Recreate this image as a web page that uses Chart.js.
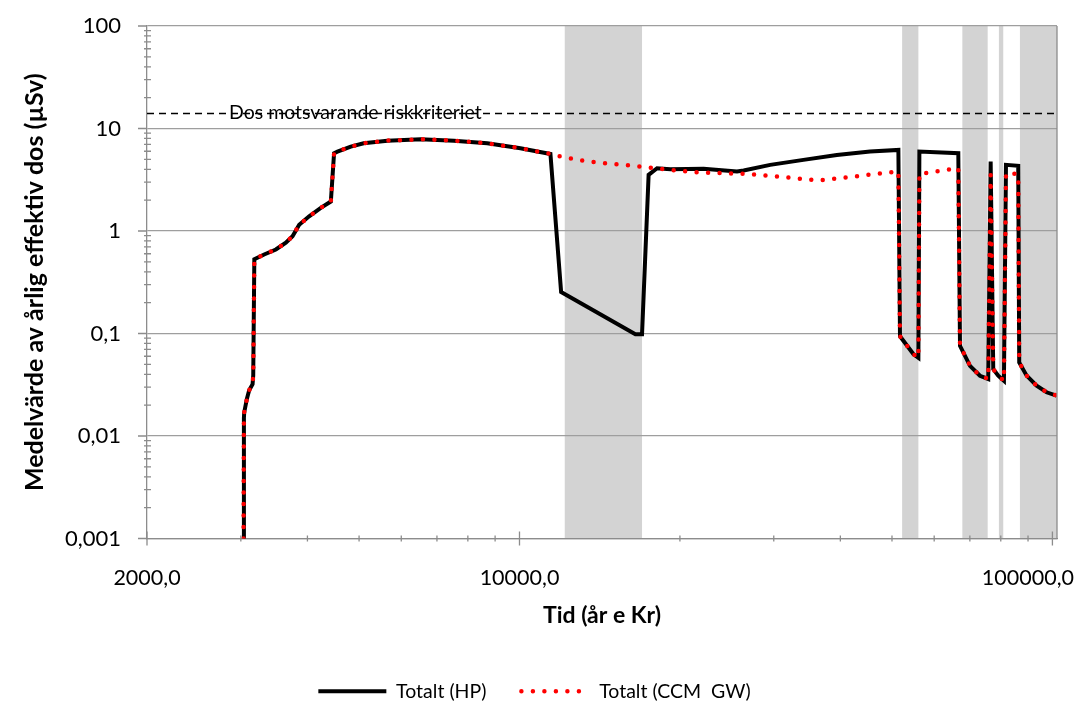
<!DOCTYPE html>
<html><head><meta charset="utf-8">
<script src="https://cdn.jsdelivr.net/npm/chart.js@4.4.1/dist/chart.umd.min.js"></script>
<style>html,body{margin:0;padding:0;background:#fff}#wrap{width:1080px;height:704px;position:relative}</style>
</head><body><div id="wrap"><canvas id="c"></canvas></div>
<script>
// ---- data ----
const hpYears = [3035,3040,3044,3079,3110,3156,3165,3180,3318,3490,3644,3751,3860,4030,4238,4426,4488,4554,4824,5100,5650,6526,7532,8700,10040,11430,
  11970,16500,16980,17470,18120,19190,22150,25590,26340,29540,34100,39400,45480,51400,
  51760,54830,56040,56280,66590,67080,70040,73120,75780,76580,77440,79120,81100,81820,86270,86640,89460,93400,97500,101780];
const hpDose = [0.001,0.015,0.017,0.023,0.028,0.032,0.039,0.53,0.59,0.66,0.77,0.89,1.15,1.39,1.68,1.94,5.74,5.95,6.66,7.18,7.61,7.85,7.61,7.18,6.42,5.65,
  0.254,0.0985,0.0985,3.53,4.10,4.01,4.04,3.80,3.89,4.42,4.94,5.52,5.95,6.18,
  0.094,0.063,0.058,5.95,5.74,0.0757,0.0484,0.0387,0.036,4.76,0.045,0.0388,0.0346,4.42,4.32,0.0522,0.0388,0.031,0.0267,0.0248];
const ccmYears = [3035,3040,3044,3079,3110,3156,3165,3180,3318,3490,3644,3751,3860,4030,4238,4426,4488,4554,4824,5100,5650,6526,7532,8700,10040,11430,
  11970,13200,14600,16150,17860,19750,21840,26720,31290,36400,42040,46480,51400,
  51760,54830,56040,56280,57250,60200,63340,66590,67080,70040,73120,75780,76580,77440,79120,81100,81820,83500,86270,86640,89460,93400,97500,101780];
const ccmDose = [0.001,0.015,0.017,0.023,0.028,0.032,0.039,0.53,0.59,0.66,0.77,0.89,1.15,1.39,1.68,1.94,5.74,5.95,6.66,7.18,7.61,7.85,7.61,7.18,6.42,5.65,
  5.32,4.83,4.55,4.35,4.10,3.89,3.72,3.61,3.36,3.11,3.38,3.59,3.80,
  0.094,0.063,0.058,3.6,3.65,3.80,3.95,4.10,0.0757,0.0484,0.0387,0.036,3.53,0.045,0.0388,0.0346,3.6,3.75,3.5,0.0522,0.0388,0.031,0.0267,0.0248];
const riskYears = [2000, 102000];
const riskDose = [14, 14];
const riskLabel = 'Dos motsvarande riskkriteriet';
const riskLabelYear = 2850;
const bandStart = [12160, 52240, 67760, 79360, 86900];
const bandEnd   = [16980, 56040, 75600, 80860, 102000];
const xMin = 2000, xMax = 102000;
const xMajorTicks = [2000, 10000, 100000];
const xTickLabels = ['2000,0', '10000,0', '100000,0'];
const xMinorTicks = [3000,4000,5000,6000,7000,8000,9000,20000,30000,40000,50000,60000,70000,80000,90000];
const yMajorTicks = [0.001, 0.01, 0.1, 1, 10, 100];
const yTickLabels = ['0,001', '0,01', '0,1', '1', '10', '100'];
const yMinorSteps = [2,3,4,5,6,7,8,9];
const seriesNames = ['Totalt (HP)', 'Totalt (CCM  GW)'];
const xTitle = 'Tid (år e Kr)';
const yTitle = 'Medelvärde av årlig effektiv dos (µSv)';

const FONT = 'Lato';
const AXIS = '#8c8c8c';
const GRID = '#9e9e9e';

const bandsPlugin = {
  id: 'bands',
  beforeDraw(chart) {
    const {ctx, chartArea: a, scales: {x}} = chart;
    ctx.save();
    ctx.fillStyle = '#d3d3d3';
    bandStart.forEach((s, i) => {
      const x1 = Math.max(a.left, x.getPixelForValue(s));
      const x2 = Math.min(a.right, x.getPixelForValue(bandEnd[i]));
      ctx.fillRect(x1, a.top, x2 - x1, a.bottom - a.top);
    });
    ctx.restore();
  }
};

const decorPlugin = {
  id: 'decor',
  afterDraw(chart) {
    const {ctx, chartArea: a, scales: {x, y}} = chart;
    ctx.save();
    ctx.strokeStyle = AXIS;
    ctx.lineWidth = 1.3;
    ctx.beginPath();
    xMajorTicks.forEach(v => { const p = x.getPixelForValue(v); ctx.moveTo(p, a.bottom - 7); ctx.lineTo(p, a.bottom + 7); });
    xMinorTicks.forEach(v => { const p = x.getPixelForValue(v); ctx.moveTo(p, a.bottom - 3); ctx.lineTo(p, a.bottom + 3); });
    yMajorTicks.forEach(v => { const p = y.getPixelForValue(v); ctx.moveTo(a.left - 9, p); ctx.lineTo(a.left, p); });
    yMajorTicks.slice(0, -1).forEach(d => yMinorSteps.forEach(m => {
      const p = y.getPixelForValue(d * m); ctx.moveTo(a.left - 3, p); ctx.lineTo(a.left + 4, p);
    }));
    ctx.moveTo(a.right, a.top); ctx.lineTo(a.right, a.bottom);
    ctx.stroke();
    // x tick labels
    ctx.font = '21.5px ' + FONT;
    ctx.fillStyle = '#000';
    ctx.textAlign = 'center';
    ctx.textBaseline = 'middle';
    xMajorTicks.forEach((v, i) => {
      const w = ctx.measureText(xTickLabels[i]).width;
      let p = x.getPixelForValue(v);
      p = Math.min(p, chart.width - 6 - w / 2);
      ctx.fillText(xTickLabels[i], p, a.bottom + 40);
    });
    // risk label
    ctx.font = '19.5px ' + FONT;
    ctx.textAlign = 'left';
    ctx.fillText(riskLabel, x.getPixelForValue(riskLabelYear), y.getPixelForValue(riskDose[0]) - 1);
    ctx.restore();
  }
};

Chart.defaults.color = '#000';
Chart.defaults.font.family = FONT;

new Chart(document.getElementById('c'), {
  type: 'line',
  data: {
    datasets: [
      { label: seriesNames[0], data: hpYears.map((v, i) => ({x: v, y: hpDose[i]})),
        borderColor: '#000', backgroundColor: '#000', borderWidth: 4, pointRadius: 0, order: 1, tension: 0 },
      { label: seriesNames[1], data: ccmYears.map((v, i) => ({x: v, y: ccmDose[i]})),
        borderColor: '#ff0000', backgroundColor: '#ff0000', borderWidth: 4.5, borderDash: [0, 11.5], borderCapStyle: 'round',
        pointRadius: 0, order: 0, tension: 0 },
      { label: 'risk', data: riskYears.map((v, i) => ({x: v, y: riskDose[i]})),
        borderColor: '#000', borderWidth: 1.5, borderDash: [7, 5], pointRadius: 0, order: 2 }
    ]
  },
  options: {
    responsive: true, maintainAspectRatio: false, animation: false, devicePixelRatio: 1,
    layout: { padding: { left: 12, right: 23, top: 26, bottom: -7 } },
    scales: {
      x: {
        type: 'logarithmic', min: xMin, max: xMax,
        afterBuildTicks: s => { s.ticks = xMajorTicks.map(v => ({value: v, major: true})); },
        afterFit: s => { s.height = 108; },
        ticks: { display: false },
        grid: { display: true, drawOnChartArea: false, drawTicks: false, color: 'rgba(0,0,0,0)' },
        border: { display: true, color: AXIS, width: 1.3 },
        title: { display: true, text: xTitle, font: { family: FONT, size: 23, weight: 'bold' }, color: '#000', padding: { top: 0, bottom: 17 } }
      },
      y: {
        type: 'logarithmic', min: 0.001, max: 100,
        afterBuildTicks: s => { s.ticks = yMajorTicks.map(v => ({value: v, major: true})); },
        afterFit: s => { s.width = 135; },
        ticks: { font: { family: FONT, size: 22 }, color: '#000', padding: 0,
          callback: v => { const i = yMajorTicks.indexOf(v); return i >= 0 ? yTickLabels[i] : ''; } },
        grid: { color: GRID, lineWidth: 1.3, drawTicks: true, tickLength: 26, tickColor: 'rgba(0,0,0,0)' },
        border: { display: true, color: AXIS, width: 1.3 },
        title: { display: true, text: yTitle, font: { family: FONT, size: 25, weight: 'bold' }, color: '#000', padding: { top: 8, bottom: 0 } }
      }
    },
    plugins: {
      tooltip: { enabled: false },
      legend: {
        position: 'bottom',
        labels: {
          usePointStyle: true, pointStyle: 'line', pointStyleWidth: 68, boxHeight: 10,
          font: { family: FONT, size: 19.5 }, color: '#000', padding: 35,
          filter: item => item.datasetIndex < 2,
          sort: (a, b) => a.datasetIndex - b.datasetIndex,
          generateLabels: chart => {
            const items = Chart.defaults.plugins.legend.labels.generateLabels(chart);
            items.forEach(it => {
              const ds = chart.data.datasets[it.datasetIndex];
              it.lineDash = ds.borderDash || [];
              it.lineCap = ds.borderCapStyle || 'butt';
              it.lineWidth = ds.borderWidth;
              it.strokeStyle = ds.borderColor;
            });
            return items;
          }
        }
      }
    }
  },
  plugins: [bandsPlugin, decorPlugin]
});
</script>
</body></html>
